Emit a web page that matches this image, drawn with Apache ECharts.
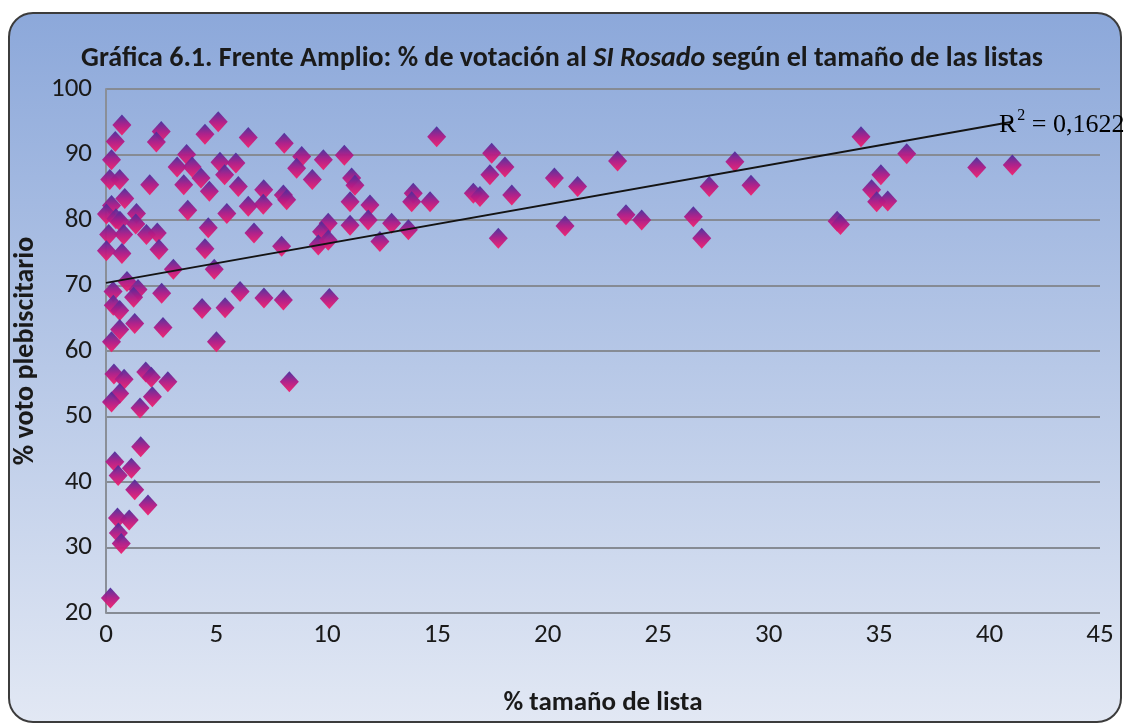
<!DOCTYPE html>
<html><head><meta charset="utf-8">
<script src="https://cdn.jsdelivr.net/npm/echarts@6/dist/echarts.min.js"></script>
<style>html,body{margin:0;padding:0;background:#fff}#c{width:1124px;height:724px}</style>
</head><body><div id="c"></div>
<script>
// % tamaño de lista (x) and % voto plebiscitario (y)
const sizeX = [
 0.72,0.42,2.5,2.28,0.25,0.17,0.62,1.98,0.85,0.25,0.02,1.38,0.45,0.63,1.35,0.12,0.8,1.83,2.32,0.02,
 0.72,2.4,3.05,0.95,1.45,0.32,1.25,2.52,0.33,0.62,0.62,1.3,2.58,0.25,0.36,0.82,1.8,2.05,2.8,0.62,
 0.25,2.1,1.54,1.57,0.4,1.15,0.55,1.3,1.9,0.52,1.05,0.56,0.69,0.2,
 5.08,4.48,6.44,8.07,3.65,3.22,3.9,5.16,5.88,5.37,4.3,3.52,4.68,5.99,7.14,8.03,8.18,7.12,6.44,3.7,
 5.47,4.63,6.7,4.48,7.95,4.9,6.07,7.15,8.03,4.35,5.39,5.0,8.3,
 14.97,8.86,9.84,10.79,8.63,9.34,11.12,11.27,11.05,11.95,13.91,13.84,14.67,16.63,16.93,18.37,17.46,18.06,17.38,20.3,
 10.06,9.76,11.05,11.87,12.93,13.69,9.61,10.06,12.4,17.76,10.11,
 21.35,23.16,20.78,23.54,24.25,26.59,26.97,27.31,28.47,29.2,33.1,33.25,34.18,36.25,39.42,41.03,35.08,34.66,34.89,35.39
];
const voteY = [
 94.5,92.0,93.5,91.9,89.2,86.2,86.2,85.4,83.3,82.2,80.9,81.0,80.2,79.8,79.4,77.8,77.8,77.8,78.0,75.3,
 74.9,75.5,72.5,70.6,69.4,69.1,68.2,68.8,67.0,66.2,63.3,64.2,63.6,61.4,56.5,55.7,56.8,56.0,55.3,53.5,
 52.2,53.0,51.3,45.4,43.1,42.1,41.0,38.8,36.5,34.5,34.2,32.2,30.6,22.3,
 95.0,93.1,92.6,91.7,90.0,88.1,88.1,88.8,88.7,86.9,86.4,85.4,84.4,85.1,84.6,83.8,83.1,82.4,82.1,81.5,
 81.0,78.8,78.0,75.6,76.0,72.5,69.1,68.1,67.8,66.5,66.6,61.4,55.3,
 92.7,89.7,89.2,89.9,87.9,86.2,86.4,85.3,82.8,82.3,84.1,82.8,82.8,84.1,83.6,83.8,90.2,88.1,86.9,86.4,
 79.5,78.2,79.2,80.0,79.5,78.5,76.2,76.9,76.7,77.2,68.0,
 85.1,89.0,79.1,80.8,80.0,80.5,77.2,85.1,88.9,85.3,79.8,79.3,92.7,90.1,88.0,88.4,86.9,84.6,82.8,82.9
];
// linear trend line
const trendX = [0, 41.03];
const trendY = [70.4, 95.0];
const r2Label = { base: 'R', sup: '2', rest: ' = 0,1622' };
const xTicks = { min: 0, max: 45, interval: 5 };
const yTicks = { min: 20, max: 100, interval: 10 };

const points = sizeX.map((x, i) => [x, voteY[i]]);
const trend = trendX.map((x, i) => [x, trendY[i]]);
const FONT = "Carlito, 'Liberation Sans Narrow', 'Noto Sans', sans-serif";
const SERIF = "'Liberation Serif', 'DejaVu Serif', serif";

const chart = echarts.init(document.getElementById('c'), null, { renderer: 'canvas' });
chart.setOption({
  animation: false,
  backgroundColor: '#ffffff',
  graphic: [
    { type: 'rect', z: -10, silent: true,
      shape: { x: 9, y: 13, width: 1112, height: 709, r: 24 },
      style: {
        fill: new echarts.graphic.LinearGradient(0, 0, 0, 1, [
          { offset: 0, color: '#8ca8da' }, { offset: 1, color: '#e2e8f4' }]),
        stroke: '#3c3c3c', lineWidth: 2
      } },
    { type: 'text', left: 999, top: 108, z: 20,
      style: {
        text: '{a|' + r2Label.base + '}{s|' + r2Label.sup + '}{a|' + r2Label.rest + '}',
        rich: {
          a: { fontFamily: SERIF, fontSize: 26, color: '#111', lineHeight: 30, verticalAlign: 'bottom' },
          s: { fontFamily: SERIF, fontSize: 16, color: '#111', lineHeight: 30, verticalAlign: 'top', padding: [0, 0, 12, 1] }
        }
      } }
  ],
  title: {
    left: 'center', top: 40,
    text: '{n|Gráfica 6.1. Frente Amplio: % de votación al }{i|SI Rosado}{n| según el tamaño de las listas}',
    textStyle: {
      rich: {
        n: { fontFamily: FONT, fontSize: 28, fontWeight: 'bold', color: '#1a1a1a' },
        i: { fontFamily: FONT, fontSize: 28, fontWeight: 'bold', fontStyle: 'italic', color: '#1a1a1a' }
      }
    }
  },
  grid: { left: 106, right: 24, top: 89, bottom: 111 },
  xAxis: {
    type: 'value', min: xTicks.min, max: xTicks.max, interval: xTicks.interval,
    name: '% tamaño de lista', nameLocation: 'middle', nameGap: 77,
    nameTextStyle: { fontFamily: FONT, fontSize: 27, fontWeight: 'bold', color: '#1a1a1a' },
    axisLine: { show: false }, axisTick: { show: false }, splitLine: { show: false },
    axisLabel: { fontFamily: FONT, fontSize: 27, color: '#1a1a1a', margin: 9 }
  },
  yAxis: {
    type: 'value', min: yTicks.min, max: yTicks.max, interval: yTicks.interval,
    name: '% voto plebiscitario', nameLocation: 'middle', nameGap: 64, nameRotate: 90,
    nameTextStyle: { fontFamily: FONT, fontSize: 28, fontWeight: 'bold', color: '#1a1a1a' },
    axisLine: { show: true, lineStyle: { color: '#8a8f98', width: 2 } },
    axisTick: { show: false },
    splitLine: { show: true, lineStyle: { color: '#868b94', width: 2 } },
    axisLabel: { fontFamily: FONT, fontSize: 27, color: '#1a1a1a', margin: 14 }
  },
  series: [
    { type: 'scatter', data: points, symbol: 'diamond', symbolSize: [19, 21], z: 2,
      itemStyle: {
        color: new echarts.graphic.LinearGradient(0, 0, 0, 1, [
          { offset: 0, color: '#46309e' }, { offset: 0.5, color: '#b01a86' }, { offset: 1, color: '#f2206c' }]),
        opacity: 0.95
      } },
    { type: 'line', data: trend, showSymbol: false, z: 5,
      lineStyle: { color: '#141414', width: 2 } }
  ]
});
</script></body></html>
